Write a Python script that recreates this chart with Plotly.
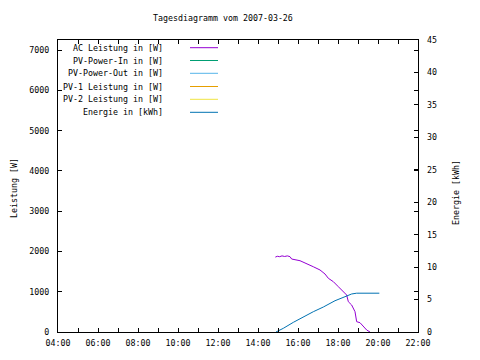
import plotly.graph_objects as go

# ---- data ----
day = "2007-03-26"
ac_times = ["14:52", "14:58", "15:05", "15:12", "15:20", "15:28", "15:36", "15:41", "16:06", "16:26",
            "16:46", "17:06", "17:21", "17:31", "17:46", "18:01", "18:16", "18:26", "18:31", "18:41",
            "18:51", "18:56", "19:06", "19:16", "19:26", "19:36"]
ac_power = [1860, 1880, 1870, 1890, 1875, 1890, 1870, 1812, 1770, 1705,
            1620, 1540, 1440, 1333, 1250, 1125, 1000, 918, 752, 670,
            505, 256, 231, 132, 50, 0]
en_times = ["14:54", "15:16", "15:46", "16:16", "16:46", "17:16", "17:34", "17:51", "18:21", "18:41",
            "18:56", "20:04"]
en_energy = [0.0, 0.57, 1.49, 2.36, 3.13, 3.85, 4.4, 4.82, 5.44, 5.86, 5.98, 5.98]

legend_names = ["AC Leistung in [W]", "PV-Power-In in [W]", "PV-Power-Out in [W]",
                "PV-1 Leistung in [W]", "PV-2 Leistung in [W]", "Energie in [kWh]"]
legend_colors = ["#9400d3", "#009e73", "#56b4e9", "#e69f00", "#f0e442", "#0072b2"]

title_text = "Tagesdiagramm vom 2007-03-26"
y1_title = "Leistung [W]"
y2_title = "Energie [kWh]"

FONT = "DejaVu Sans Mono"
FS = 8.3

fig = go.Figure()
fig.add_trace(go.Scatter(x=[f"{day} {t}" for t in ac_times], y=ac_power, mode="lines",
                         line=dict(color=legend_colors[0], width=1), showlegend=False))
fig.add_trace(go.Scatter(x=[f"{day} {t}" for t in en_times], y=en_energy, mode="lines", yaxis="y2",
                         line=dict(color=legend_colors[5], width=1), showlegend=False))

# target plot area in page pixels; page body has an 8px margin
OFF = 8
L, R, T, B = 58, 418, 40, 332
W, H = R - L, B - T

def px(x):
    return (x - L) / W

def py(y):
    return (B - y) / H

rows_y = [47.7, 60.5, 73.3, 86.5, 99.3, 112.3]
shapes = []
annotations = []
for name, col, yy in zip(legend_names, legend_colors, rows_y):
    annotations.append(dict(x=px(165), y=py(yy), xref="paper", yref="paper", text=name,
                            showarrow=False, xanchor="right", yanchor="middle",
                            font=dict(family=FONT, size=FS, color="black")))
    shapes.append(dict(type="line", xref="paper", yref="paper", x0=px(190), x1=px(218),
                       y0=py(yy), y1=py(yy), line=dict(color=col, width=1)))

annotations.append(dict(x=px(223), y=py(18), xref="paper", yref="paper", text=title_text,
                        showarrow=False, xanchor="center", yanchor="middle",
                        font=dict(family=FONT, size=FS, color="black")))
annotations.append(dict(x=px(14), y=py(188), xref="paper", yref="paper", text=y1_title,
                        showarrow=False, xanchor="center", yanchor="middle", textangle=-90,
                        font=dict(family=FONT, size=FS, color="black")))
annotations.append(dict(x=px(456), y=py(193), xref="paper", yref="paper", text=y2_title,
                        showarrow=False, xanchor="center", yanchor="middle", textangle=-90,
                        font=dict(family=FONT, size=FS, color="black")))

fig.update_layout(
    width=480, height=360,
    margin=dict(l=L - OFF, r=480 - (R - OFF), t=T - OFF, b=360 - (B - OFF), autoexpand=False),
    paper_bgcolor="white", plot_bgcolor="white",
    font=dict(family=FONT, size=FS, color="black"),
    shapes=shapes, annotations=annotations,
    xaxis=dict(type="date", range=[f"{day} 04:00", f"{day} 22:00"], automargin=False,
               dtick=2 * 3600000, tick0=f"{day} 04:00", tickformat="%H:%M",
               ticks="inside", ticklen=4, tickcolor="black", showgrid=False, zeroline=False,
               showline=True, linecolor="black", linewidth=1, mirror="allticks",
               ticklabelstandoff=3,
               minor=dict(dtick=3600000, ticks="inside", ticklen=4, tickcolor="black", showgrid=False),
               tickfont=dict(family=FONT, size=FS)),
    yaxis=dict(range=[0, 7250], dtick=1000, ticks="inside", ticklen=4, tickcolor="black",
               automargin=False, ticklabelstandoff=6,
               showgrid=False, zeroline=False, showline=True, linecolor="black", linewidth=1,
               mirror="allticks", tickfont=dict(family=FONT, size=FS)),
    yaxis2=dict(range=[0, 45], dtick=5, overlaying="y", side="right", ticks="inside", ticklen=4,
                automargin=False, ticklabelstandoff=8,
                tickcolor="black", showgrid=False, zeroline=False, showline=False,
                tickfont=dict(family=FONT, size=FS)),
)

fig.write_html("out.html")
